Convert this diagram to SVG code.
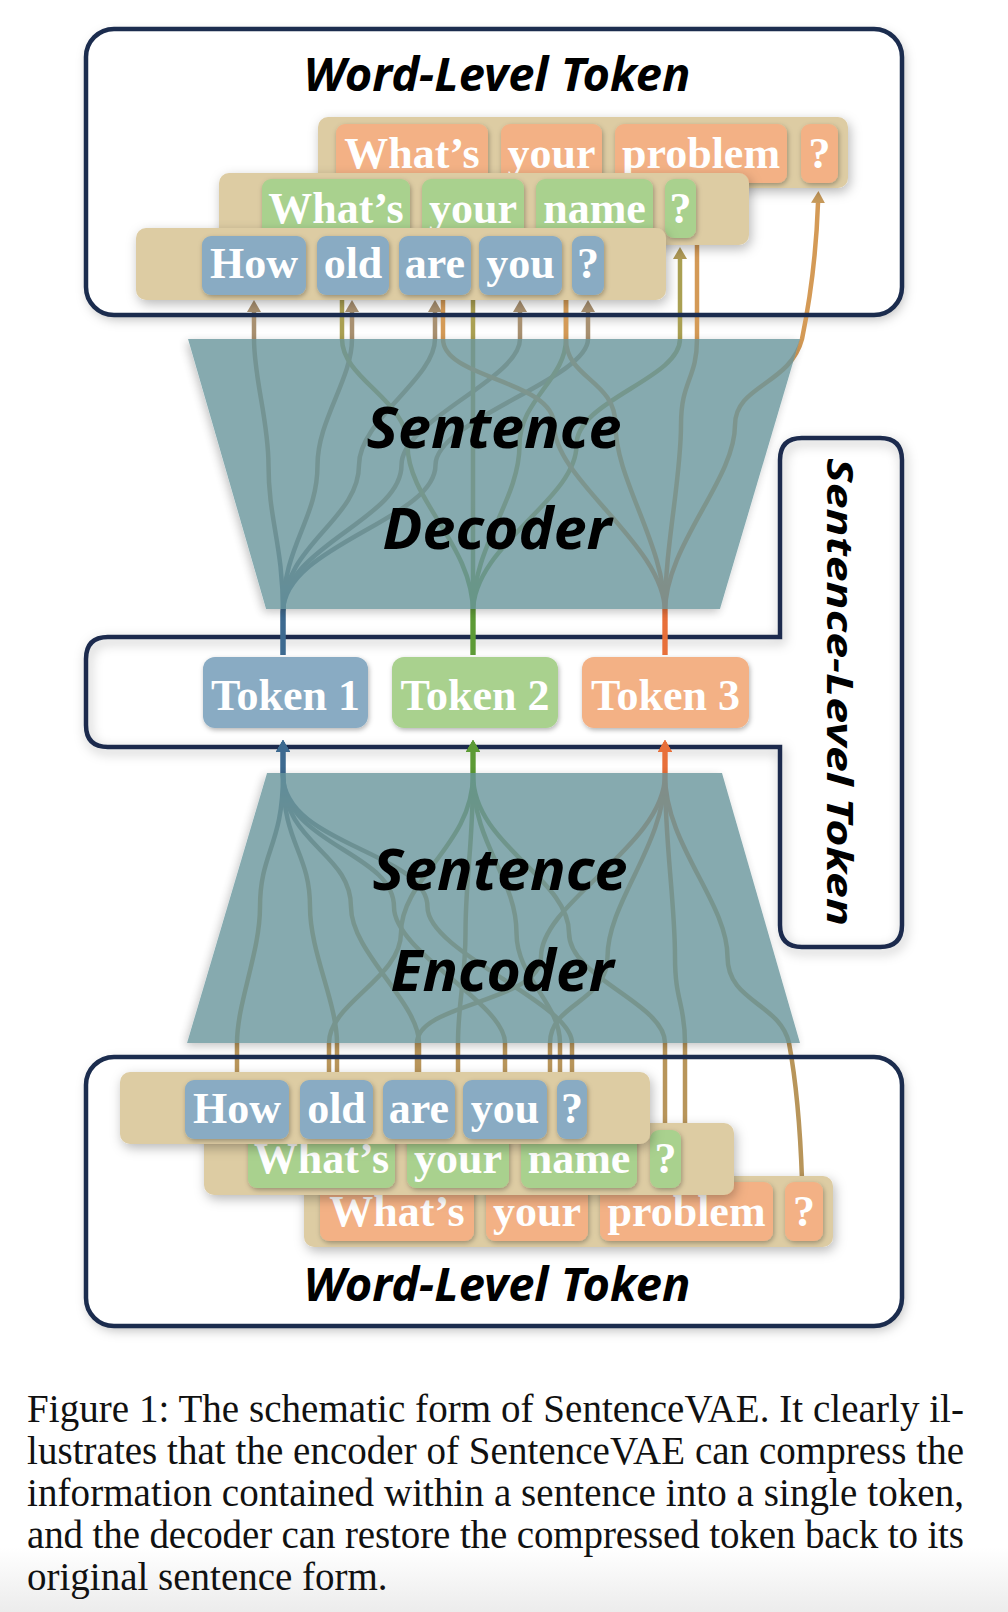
<svg xmlns="http://www.w3.org/2000/svg" width="1008" height="1612" viewBox="0 0 1008 1612">
<defs>
<style>
.frame{fill:none;stroke:#1b2c4e;stroke-width:4.5}
.tan{fill:#ddcca3}
.wb{fill:#89abc3}
.wg{fill:#a9d18e}
.wo{fill:#f3b185}
.wt{font-family:"Liberation Serif",serif;font-weight:bold;font-size:44px;fill:#fff;text-anchor:middle}
.ct{font-family:"Noto Sans",sans-serif;font-weight:bold;font-style:italic;fill:#000;text-anchor:middle}
.trap{fill:#68959c}
.ln{fill:none;stroke-width:4.5}
.cap{font-family:"Liberation Serif",serif;font-size:39px;fill:#111}
</style>
<filter id="sh" x="-10%" y="-10%" width="125%" height="135%"><feDropShadow dx="2" dy="4" stdDeviation="6" flood-color="#000" flood-opacity="0.28"/></filter>
<filter id="ws" x="-20%" y="-20%" width="140%" height="150%"><feDropShadow dx="1" dy="2" stdDeviation="2.5" flood-color="#000" flood-opacity="0.3"/></filter>
<filter id="tsh" x="-10%" y="-10%" width="120%" height="130%">
<feGaussianBlur in="SourceAlpha" stdDeviation="5" result="b"/>
<feOffset in="b" dx="-2" dy="3" result="o"/>
<feFlood flood-color="#000" flood-opacity="0.3"/>
<feComposite in2="o" operator="in" result="s"/>
<feComposite in="s" in2="SourceAlpha" operator="out" result="s2"/>
<feMerge><feMergeNode in="s2"/><feMergeNode in="SourceGraphic"/></feMerge>
</filter>
<linearGradient id="gDB" gradientUnits="userSpaceOnUse" x1="0" y1="615" x2="0" y2="500"><stop offset="0" stop-color="#3d6a90"/><stop offset="1" stop-color="#a89070"/></linearGradient>
<linearGradient id="gDG" gradientUnits="userSpaceOnUse" x1="0" y1="615" x2="0" y2="500"><stop offset="0" stop-color="#5d9b36"/><stop offset="1" stop-color="#aaa052"/></linearGradient>
<linearGradient id="gDO" gradientUnits="userSpaceOnUse" x1="0" y1="615" x2="0" y2="500"><stop offset="0" stop-color="#e8703a"/><stop offset="1" stop-color="#d49a56"/></linearGradient>
<linearGradient id="gEB" gradientUnits="userSpaceOnUse" x1="0" y1="775" x2="0" y2="900"><stop offset="0" stop-color="#3d6a90"/><stop offset="1" stop-color="#b8955a"/></linearGradient>
<linearGradient id="gEG" gradientUnits="userSpaceOnUse" x1="0" y1="775" x2="0" y2="900"><stop offset="0" stop-color="#5d9b36"/><stop offset="1" stop-color="#b8955a"/></linearGradient>
<linearGradient id="gEO" gradientUnits="userSpaceOnUse" x1="0" y1="775" x2="0" y2="900"><stop offset="0" stop-color="#e8703a"/><stop offset="1" stop-color="#b8955a"/></linearGradient>
<marker id="aDB" markerUnits="userSpaceOnUse" markerWidth="12" markerHeight="14" viewBox="0 0 12 14" refX="0" refY="7" orient="auto"><path d="M0,0 L12,7 L0,14 Z" fill="#a89070"/></marker>
<marker id="aDG" markerUnits="userSpaceOnUse" markerWidth="12" markerHeight="14" viewBox="0 0 12 14" refX="0" refY="7" orient="auto"><path d="M0,0 L12,7 L0,14 Z" fill="#b09a56"/></marker>
<marker id="aDO" markerUnits="userSpaceOnUse" markerWidth="12" markerHeight="14" viewBox="0 0 12 14" refX="0" refY="7" orient="auto"><path d="M0,0 L12,7 L0,14 Z" fill="#c89a5a"/></marker>
<marker id="aEB" markerUnits="userSpaceOnUse" markerWidth="12" markerHeight="14" viewBox="0 0 12 14" refX="0" refY="7" orient="auto"><path d="M0,0 L12,7 L0,14 Z" fill="#3d6a90"/></marker>
<marker id="aEG" markerUnits="userSpaceOnUse" markerWidth="12" markerHeight="14" viewBox="0 0 12 14" refX="0" refY="7" orient="auto"><path d="M0,0 L12,7 L0,14 Z" fill="#5d9b36"/></marker>
<marker id="aEO" markerUnits="userSpaceOnUse" markerWidth="12" markerHeight="14" viewBox="0 0 12 14" refX="0" refY="7" orient="auto"><path d="M0,0 L12,7 L0,14 Z" fill="#e8703a"/></marker>
<linearGradient id="bg" x1="0" y1="0" x2="0" y2="1"><stop offset="0.96" stop-color="#fff"/><stop offset="1" stop-color="#ececec"/></linearGradient>
</defs>
<rect width="1008" height="1612" fill="url(#bg)"/>

<g id="box-fills">
<rect x="86" y="29" width="816" height="286" rx="28" fill="#fff" filter="url(#sh)"/>
<rect x="86" y="1057" width="816" height="269" rx="28" fill="#fff" filter="url(#sh)"/>
</g>

<g id="sentence-level-box">
<path class="frame" d="M108,637 H780 V460 Q780,438 802,438 H880 Q902,438 902,460 V925 Q902,947 880,947 H802 Q780,947 780,925 V747 H108 Q86,747 86,725 V659 Q86,637 108,637 Z" fill="#fff" filter="url(#sh)"/>
<text class="ct" font-size="36" transform="translate(827,692) rotate(90)" textLength="468" lengthAdjust="spacingAndGlyphs">Sentence-Level Token</text>
</g>

<g id="connectors">
<path class="ln" stroke="url(#gDB)" marker-end="url(#aDB)" d="M283,655 V612 C283,545 268.5,520 268.5,465 C268.5,420 254,379 254,339 V312"/>
<path class="ln" stroke="url(#gDB)" marker-end="url(#aDB)" d="M283,655 V612 C283,545 317.5,520 317.5,465 C317.5,420 352,379 352,339 V312"/>
<path class="ln" stroke="url(#gDB)" marker-end="url(#aDB)" d="M283,655 V612 C283,545 359,520 359,465 C359,420 435,379 435,339 V312"/>
<path class="ln" stroke="url(#gDB)" marker-end="url(#aDB)" d="M283,655 V612 C283,545 401.5,520 401.5,465 C401.5,420 520,379 520,339 V312"/>
<path class="ln" stroke="url(#gDB)" marker-end="url(#aDB)" d="M283,655 V612 C283,545 435.5,520 435.5,465 C435.5,420 588,379 588,339 V312"/>
<path class="ln" stroke="url(#gDG)" d="M473,655 V612 C473,545 407.5,500 407.5,445 C407.5,400 342,379 342,339 V250"/>
<path class="ln" stroke="url(#gDG)" d="M473,655 V250"/>
<path class="ln" stroke="url(#gDG)" d="M473,655 V612 C473,545 519.5,500 519.5,445 C519.5,400 566,379 566,339 V250"/>
<path class="ln" stroke="url(#gDG)" marker-end="url(#aDG)" d="M473,655 V612 C473,545 576.5,500 576.5,445 C576.5,400 680,379 680,339 V259"/>
<path class="ln" stroke="url(#gDO)" d="M665,655 V612 C665,545 554,480 554,425 C554,380 443,379 443,339 V200"/>
<path class="ln" stroke="url(#gDO)" d="M665,655 V612 C665,545 615.5,480 615.5,425 C615.5,380 566,379 566,339 V200"/>
<path class="ln" stroke="url(#gDO)" d="M665,655 V612 C665,545 681,480 681,425 C681,380 697,379 697,339 V200"/>
<path class="ln" stroke="url(#gDO)" marker-end="url(#aDO)" d="M665,655 V612 C665,545 735,480 735,425 C735,385 790,385 802,339 C810,300 816,260 818,203"/>
<path class="ln" stroke="url(#gEB)" marker-end="url(#aEB)" d="M237,1085 V1043 C237,1003 260,952 260,907 C260,852 283,845 283,775 V752"/>
<path class="ln" stroke="url(#gEB)" marker-end="url(#aEB)" d="M337,1085 V1043 C337,1003 310,952 310,907 C310,852 283,845 283,775 V752"/>
<path class="ln" stroke="url(#gEB)" marker-end="url(#aEB)" d="M419,1085 V1043 C419,1003 351,952 351,907 C351,852 283,845 283,775 V752"/>
<path class="ln" stroke="url(#gEB)" marker-end="url(#aEB)" d="M505,1085 V1043 C505,1003 394,952 394,907 C394,852 283,845 283,775 V752"/>
<path class="ln" stroke="url(#gEB)" marker-end="url(#aEB)" d="M572,1085 V1043 C572,1003 427.5,952 427.5,907 C427.5,852 283,845 283,775 V752"/>
<path class="ln" stroke="url(#gEG)" marker-end="url(#aEG)" d="M329,1135 V1043 C329,1003 401,978 401,933 C401,878 473,845 473,775 V752"/>
<path class="ln" stroke="url(#gEG)" marker-end="url(#aEG)" d="M458,1135 V1043 C458,1003 465.5,978 465.5,933 C465.5,878 473,845 473,775 V752"/>
<path class="ln" stroke="url(#gEG)" marker-end="url(#aEG)" d="M560,1135 V1043 C560,1003 516.5,978 516.5,933 C516.5,878 473,845 473,775 V752"/>
<path class="ln" stroke="url(#gEG)" marker-end="url(#aEG)" d="M665,1135 V1043 C665,1003 569,978 569,933 C569,878 473,845 473,775 V752"/>
<path class="ln" stroke="url(#gEO)" marker-end="url(#aEO)" d="M417,1185 V1043 C417,1003 541,1002 541,957 C541,902 665,845 665,775 V752"/>
<path class="ln" stroke="url(#gEO)" marker-end="url(#aEO)" d="M550,1185 V1043 C550,1003 607.5,1002 607.5,957 C607.5,902 665,845 665,775 V752"/>
<path class="ln" stroke="url(#gEO)" marker-end="url(#aEO)" d="M685,1185 V1043 C685,1003 675,1002 675,957 C675,902 665,845 665,775 V752"/>
<path class="ln" stroke="url(#gEO)" marker-end="url(#aEO)" d="M802,1180 C800,1120 794,1070 789,1043 C780,1003 727.5,1002 727.5,957 C727.5,902 665,845 665,775 V752"/>
</g>

<g id="sentence-decoder">
<g opacity="0.8"><polygon class="trap" points="188,339 800,339 720,609 266,609" filter="url(#tsh)"/></g>
<text class="ct" x="494" y="448" font-size="58" textLength="255" lengthAdjust="spacingAndGlyphs">Sentence</text>
<text class="ct" x="497" y="549" font-size="58" textLength="229" lengthAdjust="spacingAndGlyphs">Decoder</text>
</g>

<g id="sentence-encoder">
<g opacity="0.8"><polygon class="trap" points="267,773 722,773 800,1043 187,1043" filter="url(#tsh)"/></g>
<text class="ct" x="500" y="890" font-size="58" textLength="255" lengthAdjust="spacingAndGlyphs">Sentence</text>
<text class="ct" x="502" y="991" font-size="58" textLength="223" lengthAdjust="spacingAndGlyphs">Encoder</text>
</g>

<g id="token-1">
<rect class="wb" x="203" y="657" width="165" height="71" rx="12" filter="url(#ws)"/>
<text class="wt" x="285.5" y="710">Token 1</text>
</g>
<g id="token-2">
<rect class="wg" x="392" y="657" width="166" height="71" rx="12" filter="url(#ws)"/>
<text class="wt" x="475" y="710">Token 2</text>
</g>
<g id="token-3">
<rect class="wo" x="582" y="657" width="167" height="71" rx="12" filter="url(#ws)"/>
<text class="wt" x="665.5" y="710">Token 3</text>
</g>

<g id="top-row-orange">
<rect class="tan" x="318" y="117" width="530" height="71" rx="10" filter="url(#sh)"/>
<g filter="url(#ws)">
<rect class="wo" x="336" y="124" width="152" height="59" rx="9"/>
<rect class="wo" x="501" y="124" width="101" height="59" rx="9"/>
<rect class="wo" x="615" y="124" width="172" height="59" rx="9"/>
<rect class="wo" x="801" y="124" width="37" height="59" rx="9"/>
</g>
<text class="wt" x="412" y="168">What’s</text>
<text class="wt" x="551.5" y="168">your</text>
<text class="wt" x="701" y="168">problem</text>
<text class="wt" x="819.5" y="168">?</text>
</g>
<g id="top-row-green">
<rect class="tan" x="219" y="173" width="530" height="72" rx="10" filter="url(#sh)"/>
<g filter="url(#ws)">
<rect class="wg" x="262" y="179" width="148" height="59" rx="9"/>
<rect class="wg" x="422" y="179" width="102" height="59" rx="9"/>
<rect class="wg" x="536" y="179" width="117" height="59" rx="9"/>
<rect class="wg" x="665" y="179" width="31" height="59" rx="9"/>
</g>
<text class="wt" x="336" y="223">What’s</text>
<text class="wt" x="473" y="223">your</text>
<text class="wt" x="594.5" y="223">name</text>
<text class="wt" x="680.5" y="223">?</text>
</g>
<g id="top-row-blue">
<rect class="tan" x="136" y="228" width="530" height="72" rx="10" filter="url(#sh)"/>
<g filter="url(#ws)">
<rect class="wb" x="202" y="236" width="104" height="59" rx="9"/>
<rect class="wb" x="317" y="236" width="72" height="59" rx="9"/>
<rect class="wb" x="399" y="236" width="72" height="59" rx="9"/>
<rect class="wb" x="479" y="236" width="83" height="59" rx="9"/>
<rect class="wb" x="572" y="236" width="32" height="59" rx="9"/>
</g>
<text class="wt" x="254" y="278">How</text>
<text class="wt" x="353" y="278">old</text>
<text class="wt" x="435" y="278">are</text>
<text class="wt" x="520.5" y="278">you</text>
<text class="wt" x="588" y="278">?</text>
</g>

<g id="bottom-row-orange">
<rect class="tan" x="304" y="1176" width="529" height="71" rx="10" filter="url(#sh)"/>
<g filter="url(#ws)">
<rect class="wo" x="320" y="1182" width="154" height="59" rx="9"/>
<rect class="wo" x="486" y="1182" width="102" height="59" rx="9"/>
<rect class="wo" x="600" y="1182" width="173" height="59" rx="9"/>
<rect class="wo" x="785" y="1182" width="38" height="59" rx="9"/>
</g>
<text class="wt" x="397" y="1226">What’s</text>
<text class="wt" x="537" y="1226">your</text>
<text class="wt" x="686.5" y="1226">problem</text>
<text class="wt" x="804" y="1226">?</text>
</g>
<g id="bottom-row-green">
<rect class="tan" x="204" y="1123" width="530" height="72" rx="10" filter="url(#sh)"/>
<g filter="url(#ws)">
<rect class="wg" x="248" y="1130" width="147" height="58" rx="9"/>
<rect class="wg" x="407" y="1130" width="102" height="58" rx="9"/>
<rect class="wg" x="521" y="1130" width="116" height="58" rx="9"/>
<rect class="wg" x="650" y="1130" width="31" height="58" rx="9"/>
</g>
<text class="wt" x="321.5" y="1173">What’s</text>
<text class="wt" x="458" y="1173">your</text>
<text class="wt" x="579" y="1173">name</text>
<text class="wt" x="665.5" y="1173">?</text>
</g>
<g id="bottom-row-blue">
<rect class="tan" x="120" y="1072" width="530" height="72" rx="10" filter="url(#sh)"/>
<g filter="url(#ws)">
<rect class="wb" x="185" y="1080" width="104" height="59" rx="9"/>
<rect class="wb" x="300" y="1080" width="73" height="59" rx="9"/>
<rect class="wb" x="383" y="1080" width="72" height="59" rx="9"/>
<rect class="wb" x="463" y="1080" width="84" height="59" rx="9"/>
<rect class="wb" x="557" y="1080" width="30" height="59" rx="9"/>
</g>
<text class="wt" x="237" y="1123">How</text>
<text class="wt" x="336.5" y="1123">old</text>
<text class="wt" x="419" y="1123">are</text>
<text class="wt" x="505" y="1123">you</text>
<text class="wt" x="572" y="1123">?</text>
</g>

<g id="word-level-top">
<rect class="frame" x="86" y="29" width="816" height="286" rx="28"/>
<text class="ct" x="497" y="91" font-size="46" textLength="387" lengthAdjust="spacingAndGlyphs">Word-Level Token</text>
</g>
<g id="word-level-bottom">
<rect class="frame" x="86" y="1057" width="816" height="269" rx="28"/>
<text class="ct" x="497" y="1301" font-size="46" textLength="387" lengthAdjust="spacingAndGlyphs">Word-Level Token</text>
</g>

<g id="caption">
<text class="cap" x="27" y="1422" textLength="937" lengthAdjust="spacing">Figure 1: The schematic form of SentenceVAE. It clearly il-</text>
<text class="cap" x="27" y="1464" textLength="937" lengthAdjust="spacing">lustrates that the encoder of SentenceVAE can compress the</text>
<text class="cap" x="27" y="1506" textLength="937" lengthAdjust="spacing">information contained within a sentence into a single token,</text>
<text class="cap" x="27" y="1548" textLength="937" lengthAdjust="spacing">and the decoder can restore the compressed token back to its</text>
<text class="cap" x="27" y="1590">original sentence form.</text>
</g>
</svg>
